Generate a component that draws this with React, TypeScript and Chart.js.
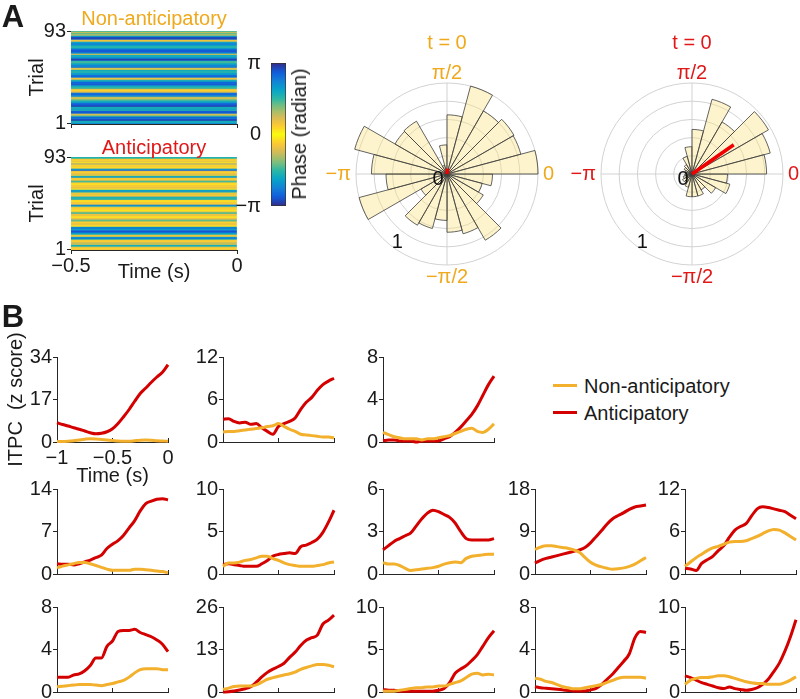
import React, { useEffect, useRef } from 'react';
import { Chart, registerables } from 'chart.js';

Chart.register(...registerables);

const FONT = '"Liberation Sans", Arial, Helvetica, sans-serif';
Chart.defaults.font.family = FONT;
Chart.defaults.font.size = 20;
Chart.defaults.color = '#1a1a1a';

// ---------------- DATA ----------------
// Panel A heatmaps: phase per trial, listed from trial 93 (top row) down to trial 1, in units of pi
const PHASE_NON_ANTICIPATORY = [
  0.5, -0.2, 0.45, 0.35, -0.3, 0.6, -0.9, 0.95, -0.85, 0.15,
  -0.2, 0.6, -0.7, 0.75, -0.65, 0.55, -0.5, 0.6, -0.8, 0.85,
  -0.9, 0.8, -0.7, 0.15, -0.6, 0.55, -0.65, 0.7, 0.95, -0.9,
  0.5, -0.45, 0.55, -0.6, 0.75, -0.7, 0.8, 0.25, -0.1, 0.6,
  -0.55, 0.5, -0.65, 0.6, -0.8, 0.85, -0.75, 0.15, -0.2, 0.55,
  -0.6, 0.85, -0.8, 0.9, -0.75, 0.6, -0.5, 0.55, 0.2, -0.1,
  0.15, -0.25, 0.8, -0.85, 0.75, -0.7, 0.3, -0.2, 0.35, -0.45,
  0.55, -0.6, 0.8, -0.85, 0.9, -0.95, 0.6, -0.55, 0.65, -0.5,
  0.85, -0.9, 0.8, 0.2, -0.3, 0.5, -0.85, 0.75, -0.9, 0.95,
  -0.6, 0.55, -0.7,
];
const PHASE_ANTICIPATORY = [
  0.55, -0.5, 0.15, 0.1, -0.2, 0.05, 0.25, -0.3, 0.1, 0.15,
  -0.05, 0.2, 0.6, -0.85, 0.2, 0.1, -0.15, 0.25, 0.1, -0.55,
  0.65, 0.15, -0.1, 0.2, 0.5, -0.35, 0.1, 0.05, -0.15, 0.1,
  0.2, -0.15, 0.05, 0.6, -0.7, 0.45, 0.15, -0.2, 0.1, 0.25,
  -0.55, 0.5, -0.6, 0.1, 0.05, -0.15, 0.1, 0.2, -0.75, 0.55,
  0.2, -0.1, 0.15, 0.05, -0.1, 0.35, -0.5, 0.15, 0.2, -0.1,
  0.05, 0.15, -0.25, 0.45, -0.35, 0.1, 0.15, -0.2, 0.1, 0.05,
  -0.7, 0.8, -0.6, 0.75, -0.9, 0.85, -0.65, 0.55, 0.2, -0.1,
  0.65, -0.8, 0.55, 0.15, -0.1, 0.2, 0.3, -0.15, 0.6, -0.5,
  0.2, 0.1, -0.15,
];
const TRIALS_TOP_DOWN = Array.from({ length: 93 }, (_, i) => String(93 - i));
const HEAT_WINDOW = [-0.5, 0];
const HEAT_TIME_TICKS = [-0.5, 0];
const HEAT_TIME_LABELS = ['\u22120.5', '0'];
const CB_TICKS = [-Math.PI, 0, Math.PI];
const CB_LABELS = ['\u2212\u03c0', '0', '\u03c0'];

// Rose histograms: 24 bins of 15 deg, counter-clockwise from 0 rad
const ROSE_BIN_LABELS = ['0', '15', '30', '45', '60', '75', '90', '105', '120', '135', '150', '165',
  '180', '195', '210', '225', '240', '255', '270', '285', '300', '315', '330', '345'];
const ROSE_NON_ANTICIPATORY = [1.0, 0.84, 0.85, 0.8, 1.0, 0.65, 0.32, 0.1, 0.67, 0.66, 1.05, 0.83,
  0.67, 1.0, 0.33, 0.65, 0.62, 0.51, 0.64, 0.68, 0.84, 0.46, 0.4, 0.5];
const ROSE_ANTICIPATORY = [0.82, 0.89, 0.97, 0.66, 0.85, 0.49, 0.3, 0.2, 0.12, 0.1, 0.08, 0.06,
  0.08, 0.1, 0.12, 0.1, 0.15, 0.25, 0.25, 0.25, 0.2, 0.3, 0.43, 0.39];
const MEAN_ANGLE_DEG = [85, 35];
const MEAN_LENGTH = [0.06, 0.56];

// Panel B: ITPC traces
const TIME = [-1, -0.95, -0.9, -0.85, -0.8, -0.75, -0.7, -0.65, -0.6, -0.55, -0.5,
  -0.45, -0.4, -0.35, -0.3, -0.25, -0.2, -0.15, -0.1, -0.05, 0];
const ITPC_TIME_TICKS = [-1, -0.5, 0];
const ITPC_TIME_LABELS = ['\u22121', '\u22120.5', '0'];
const Y_MAX = [34, 12, 8, 14, 10, 6, 18, 12, 8, 26, 10, 8, 10];

const NONANT_01 = [0.2, 0.2, 0.3, 0.5, 0.8, 1.1, 1.3, 1.2, 1.0, 0.8, 0.6, 0.4, 0.3, 0.3, 0.5, 0.7, 0.8, 0.7, 0.5, 0.4, 0.3];
const ANTIC_01 = [7.7, 7.0, 6.4, 5.7, 5.1, 4.4, 3.7, 3.3, 3.5, 4.1, 5.3, 7.4, 10.1, 13.0, 16.3, 19.4, 21.6, 23.9, 26.0, 27.9, 30.9];
const NONANT_02 = [1.4, 1.5, 1.5, 1.6, 1.7, 1.8, 1.9, 2.0, 2.2, 2.3, 2.6, 2.2, 1.8, 1.5, 1.1, 1.0, 0.9, 0.8, 0.7, 0.7, 0.6];
const ANTIC_02 = [3.2, 3.3, 2.9, 2.7, 2.8, 2.5, 2.6, 2.0, 1.5, 1.1, 2.2, 2.6, 2.9, 3.4, 4.6, 5.6, 6.3, 7.3, 8.1, 8.6, 9.0];
const NONANT_03 = [0.9, 0.7, 0.5, 0.4, 0.3, 0.3, 0.3, 0.2, 0.3, 0.3, 0.4, 0.5, 0.6, 0.8, 1.0, 1.2, 1.3, 1.0, 0.9, 1.2, 1.7];
const ANTIC_03 = [0.1, 0.2, 0.2, 0.1, 0.1, 0.1, 0.0, 0.1, 0.1, 0.1, 0.1, 0.3, 0.5, 0.9, 1.4, 2.0, 2.6, 3.4, 4.4, 5.4, 6.2];
const NONANT_04 = [1.0, 1.3, 1.5, 1.7, 1.9, 1.9, 1.7, 1.4, 1.1, 0.8, 0.6, 0.6, 0.6, 0.6, 0.8, 0.8, 0.7, 0.6, 0.5, 0.4, 0.2];
const ANTIC_04 = [1.7, 1.6, 1.6, 1.5, 1.7, 2.0, 2.3, 2.7, 3.1, 4.2, 4.9, 5.5, 6.4, 7.6, 8.8, 10.4, 11.6, 12.0, 12.3, 12.4, 12.2];
const NONANT_05 = [0.9, 1.3, 1.3, 1.4, 1.6, 1.7, 1.9, 2.1, 2.1, 1.8, 1.6, 1.3, 1.1, 1.0, 0.9, 0.9, 0.9, 1.0, 1.1, 1.3, 1.4];
const ANTIC_05 = [1.1, 1.2, 1.1, 1.0, 0.9, 0.9, 0.9, 1.2, 1.6, 2.1, 2.3, 2.4, 2.5, 2.4, 3.2, 3.4, 3.7, 4.1, 4.9, 6.1, 7.5];
const NONANT_06 = [0.8, 0.7, 0.7, 0.6, 0.4, 0.25, 0.3, 0.35, 0.4, 0.45, 0.55, 0.7, 0.8, 0.85, 0.8, 1.1, 1.25, 1.3, 1.35, 1.4, 1.4];
const ANTIC_06 = [1.7, 2.0, 2.3, 2.5, 2.7, 2.9, 3.4, 3.9, 4.3, 4.5, 4.4, 4.2, 4.0, 3.6, 3.0, 2.5, 2.4, 2.4, 2.4, 2.4, 2.5];
const NONANT_07 = [5.2, 5.7, 6.0, 6.0, 5.8, 5.6, 5.4, 5.1, 4.6, 3.5, 2.5, 1.9, 1.5, 1.2, 1.0, 1.1, 1.3, 1.6, 2.1, 2.8, 3.5];
const ANTIC_07 = [2.3, 2.9, 3.3, 3.6, 3.9, 4.2, 4.5, 4.8, 5.1, 5.6, 6.6, 7.9, 9.2, 10.6, 11.7, 12.4, 13.0, 13.7, 14.2, 14.4, 14.6];
const NONANT_08 = [1.1, 1.7, 2.3, 2.8, 3.3, 3.7, 3.9, 4.2, 4.5, 4.6, 4.6, 4.7, 5.0, 5.3, 5.7, 6.1, 6.3, 6.2, 5.8, 5.3, 4.8];
const ANTIC_08 = [0.8, 0.7, 0.5, 1.5, 2.0, 2.5, 3.3, 4.0, 5.2, 6.2, 6.7, 7.1, 8.2, 9.2, 9.5, 9.4, 9.2, 9.0, 8.8, 8.3, 7.8];
const NONANT_09 = [0.5, 0.55, 0.6, 0.65, 0.7, 0.7, 0.7, 0.65, 0.6, 0.7, 0.8, 0.95, 1.1, 1.4, 1.8, 2.1, 2.2, 2.2, 2.2, 2.1, 2.1];
const ANTIC_09 = [1.4, 1.4, 1.4, 1.6, 1.7, 2.0, 2.5, 3.2, 3.2, 4.3, 4.8, 5.7, 5.8, 5.8, 5.9, 5.6, 5.4, 5.2, 4.9, 4.5, 3.8];
const NONANT_10 = [0.8, 1.2, 1.7, 1.8, 1.8, 1.8, 2.2, 3.0, 3.9, 4.4, 4.8, 5.2, 5.6, 6.1, 6.9, 7.5, 8.0, 8.4, 8.4, 8.2, 7.7];
const ANTIC_10 = [0.0, 0.1, 0.3, 0.6, 1.0, 1.6, 3.0, 4.6, 6.0, 7.0, 7.8, 8.8, 10.6, 12.2, 14.2, 15.8, 16.6, 17.4, 20.8, 22.0, 23.5];
const NONANT_11 = [0.1, 0.1, 0.1, 0.2, 0.3, 0.4, 0.5, 0.5, 0.6, 0.6, 0.7, 0.7, 0.9, 1.1, 1.3, 1.7, 2.1, 2.2, 2.0, 2.1, 2.0];
const ANTIC_11 = [0.3, 0.2, 0.2, 0.1, 0.1, 0.1, 0.1, 0.1, 0.1, 0.1, 0.2, 0.4, 1.1, 2.2, 2.7, 3.1, 3.7, 4.4, 5.4, 6.4, 7.2];
const NONANT_12 = [1.3, 1.2, 1.0, 0.9, 0.7, 0.5, 0.4, 0.3, 0.3, 0.4, 0.5, 0.6, 0.7, 0.9, 1.1, 1.3, 1.4, 1.4, 1.4, 1.4, 1.3];
const ANTIC_12 = [0.5, 0.4, 0.35, 0.3, 0.25, 0.2, 0.15, 0.1, 0.1, 0.1, 0.2, 0.35, 0.7, 1.2, 1.7, 2.3, 2.9, 3.6, 5.1, 5.7, 5.6];
const NONANT_13 = [0.9, 1.4, 1.6, 1.7, 1.7, 1.8, 1.9, 1.9, 1.8, 1.6, 1.4, 1.2, 1.1, 1.0, 1.0, 0.9, 0.9, 0.9, 1.1, 1.4, 1.8];
const ANTIC_13 = [1.9, 1.7, 1.4, 1.1, 0.9, 0.7, 0.5, 0.4, 0.6, 0.4, 0.3, 0.2, 0.3, 0.5, 0.9, 1.5, 2.4, 3.4, 4.8, 6.5, 8.5];

const NONANT = [NONANT_01, NONANT_02, NONANT_03, NONANT_04, NONANT_05, NONANT_06, NONANT_07,
  NONANT_08, NONANT_09, NONANT_10, NONANT_11, NONANT_12, NONANT_13];
const ANTIC = [ANTIC_01, ANTIC_02, ANTIC_03, ANTIC_04, ANTIC_05, ANTIC_06, ANTIC_07,
  ANTIC_08, ANTIC_09, ANTIC_10, ANTIC_11, ANTIC_12, ANTIC_13];

// ---------------- STYLE / LAYOUT ----------------
const AXIS = '#262626';
const LINE_ORANGE = '#F2B02C';
const LINE_RED = '#D40000';
const TEXT_ORANGE = '#EFA91D';
const TEXT_RED = '#E01818';
const VEC_RED = '#F00000';
const WEDGE_FILL = 'rgba(250,228,133,0.4)';
const WEDGE_EDGE = '#3c3c3c';
const GRID_GRAY = '#d2d2d2';
const PARULA = ['#352A87', '#0F5CDD', '#1481D6', '#06A4CA', '#2EB7A4', '#87BF77', '#D1BB59', '#FEC832', '#F9FB0E'];

const COL_X = [57, 223, 383, 535, 685];
const ROW_Y = [357, 489, 607];
const CELLS = [[0, 0], [0, 1], [0, 2], [1, 0], [1, 1], [1, 2], [1, 3], [1, 4], [2, 0], [2, 1], [2, 2], [2, 3], [2, 4]];
const PLOT_W = 111;
const PLOT_H = 85;

function hexToRgb(h: string) {
  const n = parseInt(h.slice(1), 16);
  return [(n >> 16) & 255, (n >> 8) & 255, n & 255];
}
const PARULA_RGB = PARULA.map(hexToRgb);
function parula(t: number) {
  const x = Math.max(0, Math.min(1, t)) * (PARULA_RGB.length - 1);
  const i = Math.min(PARULA_RGB.length - 2, Math.floor(x));
  const f = x - i;
  const a = PARULA_RGB[i], b = PARULA_RGB[i + 1];
  const c = a.map((v, k) => Math.round(v + (b[k] - v) * f));
  return `rgb(${c[0]},${c[1]},${c[2]})`;
}
function phaseColor(phi: number) {
  return parula(1 - Math.abs(phi) / Math.PI);
}

const BASE_OPTS = {
  responsive: false,
  animation: false as const,
  events: [] as any[],
};
const NO_PLUGINS = { legend: { display: false }, tooltip: { enabled: false } };

// ---------------- CONFIGS ----------------
function heatConfig(phases: number[], padTop: number, xH: number, showX: boolean) {
  const last = TRIALS_TOP_DOWN.length - 1;
  return {
    type: 'bar',
    data: {
      labels: TRIALS_TOP_DOWN,
      datasets: [{
        data: phases.map(() => [HEAT_WINDOW[0], HEAT_WINDOW[1]]),
        backgroundColor: phases.map((v) => phaseColor(v * Math.PI)),
        borderWidth: 0,
        barPercentage: 1,
        categoryPercentage: 1,
      }],
    },
    options: {
      ...BASE_OPTS,
      indexAxis: 'y',
      layout: { padding: { left: 0, right: 13, top: padTop, bottom: 0 } },
      plugins: NO_PLUGINS,
      scales: {
        x: {
          type: 'linear', min: HEAT_WINDOW[0], max: HEAT_WINDOW[1], z: 1,
          afterBuildTicks: (s: any) => { s.ticks = HEAT_TIME_TICKS.map((v) => ({ value: v })); },
          afterFit: (s: any) => { s.height = xH; },
          grid: { display: true, drawOnChartArea: false, drawTicks: true, tickLength: 4, color: AXIS },
          border: { display: true, color: AXIS, width: 1 },
          ticks: { display: showX, padding: 0, maxRotation: 0, autoSkip: false, callback: (_v: any, i: number) => HEAT_TIME_LABELS[i] },
          title: { display: showX, text: 'Time (s)', padding: { top: 0, bottom: 6 } },
        },
        y: {
          type: 'category', z: 1,
          afterFit: (s: any) => { s.width = 71; },
          grid: {
            display: true, drawOnChartArea: false, drawTicks: true, tickLength: 4, offset: false,
            color: (c: any) => (c.index === 0 || c.index === last ? AXIS : 'rgba(0,0,0,0)'),
          },
          border: { display: true, color: AXIS, width: 1 },
          ticks: {
            autoSkip: false, padding: 1,
            callback: (_v: any, i: number) => (i === 0 || i === last ? TRIALS_TOP_DOWN[i] : ''),
          },
          title: { display: true, text: 'Trial', padding: { top: 25, bottom: 0 } },
        },
      },
    },
  };
}

function colorbarConfig() {
  return {
    type: 'bar',
    data: {
      labels: ['phase'],
      datasets: [{
        data: [[-Math.PI, Math.PI]],
        backgroundColor: (c: any) => {
          const chart = c.chart;
          const y = chart.scales && chart.scales.y;
          if (!y) return PARULA[4];
          const top = y.getPixelForValue(Math.PI);
          const bot = y.getPixelForValue(-Math.PI);
          if (!Number.isFinite(top) || !Number.isFinite(bot) || top === bot) return PARULA[4];
          const g = chart.ctx.createLinearGradient(0, top, 0, bot);
          for (let k = 0; k <= 40; k++) {
            const f = k / 40;
            g.addColorStop(f, phaseColor(Math.PI * (1 - 2 * f)));
          }
          return g;
        },
        borderColor: '#333',
        borderWidth: 1,
        borderSkipped: false,
        barPercentage: 1,
        categoryPercentage: 1,
      }],
    },
    options: {
      ...BASE_OPTS,
      layout: { padding: { left: 0, right: 16, top: 15, bottom: 15 } },
      plugins: NO_PLUGINS,
      scales: {
        x: { display: false },
        y: {
          min: -Math.PI, max: Math.PI,
          afterBuildTicks: (s: any) => { s.ticks = CB_TICKS.map((v) => ({ value: v })); },
          afterFit: (s: any) => { s.width = 39; },
          grid: { display: false },
          border: { display: false },
          ticks: { padding: 2, callback: (_v: any, i: number) => CB_LABELS[i] },
        },
      },
    },
  };
}

const roseDecor = {
  id: 'roseDecor',
  afterDatasetsDraw(chart: any, _a: any, o: any) {
    const s = chart.scales.r;
    const ctx = chart.ctx;
    const d = s.getDistanceFromCenterForValue(o.len);
    const a = (o.angle * Math.PI) / 180;
    ctx.save();
    ctx.strokeStyle = VEC_RED;
    ctx.lineWidth = 3.5;
    ctx.beginPath();
    ctx.moveTo(s.xCenter, s.yCenter);
    ctx.lineTo(s.xCenter + d * Math.cos(a), s.yCenter - d * Math.sin(a));
    ctx.stroke();
    ctx.restore();
  },
  afterDraw(chart: any, _a: any, o: any) {
    const s = chart.scales.r;
    const ctx = chart.ctx;
    const R = s.drawingArea;
    const cx = s.xCenter, cy = s.yCenter;
    ctx.save();
    ctx.font = `20px ${FONT}`;
    ctx.textBaseline = 'middle';
    const put = (t: string, x: number, y: number, align: string, color: string) => {
      ctx.fillStyle = color;
      ctx.textAlign = align;
      ctx.fillText(t, x, y);
    };
    put(o.title, cx, cy - R - 40, 'center', o.color);
    put('\u03c0/2', cx, cy - R - 10, 'center', o.color);
    put('\u2212\u03c0/2', cx, cy + R + 12, 'center', o.color);
    put('0', cx + R + 5, cy, 'left', o.color);
    put('\u2212\u03c0', cx - R - 5, cy, 'right', o.color);
    put('0', cx - 9, cy + 5, 'center', '#111');
    const d1 = s.getDistanceFromCenterForValue(0.93);
    const a1 = (-126 * Math.PI) / 180;
    put('1', cx + d1 * Math.cos(a1), cy - d1 * Math.sin(a1), 'center', '#111');
    ctx.restore();
  },
};

function roseConfig(bins: number[], color: string, which: number, padRight: number) {
  return {
    type: 'polarArea',
    data: {
      labels: ROSE_BIN_LABELS,
      datasets: [{
        data: [...bins].reverse(),
        backgroundColor: WEDGE_FILL,
        borderColor: WEDGE_EDGE,
        borderWidth: 0.8,
        clip: false,
      }],
    },
    options: {
      ...BASE_OPTS,
      layout: { padding: { left: 39, right: padRight, top: 63, bottom: 35 } },
      plugins: {
        ...NO_PLUGINS,
        roseDecor: { title: 't = 0', color, angle: MEAN_ANGLE_DEG[which], len: MEAN_LENGTH[which] },
      },
      scales: {
        r: {
          min: 0, max: 1, startAngle: 90,
          ticks: { display: false, stepSize: 0.2 },
          grid: { circular: true, color: GRID_GRAY, lineWidth: 1 },
          angleLines: {
            display: true, lineWidth: 1,
            color: (c: any) => (c.index % 6 === 0 ? GRID_GRAY : 'rgba(0,0,0,0)'),
          },
          pointLabels: { display: false },
        },
      },
    },
    plugins: [roseDecor],
  };
}

function lineConfig(idx: number, yW: number, xH: number, padRight: number, padTop: number) {
  const first = idx === 0;
  const max = Y_MAX[idx];
  const mk = (arr: number[]) => TIME.map((t, k) => ({ x: t, y: arr[k] }));
  const ds = (label: string, arr: number[], color: string) => ({
    label, data: mk(arr), borderColor: color, backgroundColor: color, borderWidth: 3,
    pointRadius: 0, cubicInterpolationMode: 'monotone', clip: false, fill: false,
  });
  return {
    type: 'line',
    data: {
      datasets: [
        ds('Non-anticipatory', NONANT[idx], LINE_ORANGE),
        ds('Anticipatory', ANTIC[idx], LINE_RED),
      ],
    },
    options: {
      ...BASE_OPTS,
      layout: { padding: { left: 0, right: padRight, top: padTop, bottom: 0 } },
      plugins: NO_PLUGINS,
      scales: {
        x: {
          type: 'linear', min: -1, max: 0,
          afterBuildTicks: (s: any) => { s.ticks = ITPC_TIME_TICKS.map((v) => ({ value: v })); },
          afterFit: (s: any) => { s.height = xH; },
          grid: { display: true, drawOnChartArea: false, drawTicks: true, tickLength: -4, color: AXIS },
          border: { display: true, color: AXIS, width: 1 },
          ticks: { display: first, padding: 8, maxRotation: 0, autoSkip: false, callback: (_v: any, i: number) => ITPC_TIME_LABELS[i] },
          title: { display: first, text: 'Time (s)', padding: { top: 0, bottom: 0 } },
        },
        y: {
          type: 'linear', min: 0, max,
          afterBuildTicks: (s: any) => { s.ticks = [0, max / 2, max].map((v) => ({ value: v })); },
          afterFit: (s: any) => { s.width = yW; },
          grid: { display: true, drawOnChartArea: false, drawTicks: true, tickLength: 4, color: AXIS },
          border: { display: true, color: AXIS, width: 1 },
          ticks: { padding: 1, autoSkip: false, callback: (v: any) => String(v) },
          title: { display: first, text: 'ITPC  (z score)', padding: { top: 4, bottom: 0 } },
        },
      },
    },
  };
}

// ---------------- COMPONENTS ----------------
function ChartBox({ make, left, top, width, height }: any) {
  const ref = useRef<HTMLCanvasElement | null>(null);
  useEffect(() => {
    if (!ref.current) return;
    let chart: any = null;
    try {
      chart = new Chart(ref.current, make());
    } catch (e) {
      console.error(e);
    }
    return () => { if (chart) chart.destroy(); };
  }, []);
  return (
    <canvas
      ref={ref}
      width={width}
      height={height}
      style={{ position: 'absolute', left, top, width, height }}
    />
  );
}

function Txt({ x, y, children, color = '#1a1a1a', size = 20, weight = 400, rotate = 0, align = 'center' }: any) {
  const tx = align === 'left' ? '0' : '-50%';
  return (
    <div
      style={{
        position: 'absolute', left: x, top: y, whiteSpace: 'nowrap',
        transform: `translate(${tx}, -50%) rotate(${rotate}deg)`,
        fontFamily: FONT, fontSize: size, fontWeight: weight, color, lineHeight: 1,
      }}
    >
      {children}
    </div>
  );
}

export default function App() {
  const lineBoxes = CELLS.map(([r, c], idx) => {
    const first = idx === 0;
    const yW = first ? COL_X[0] : 45;
    const xH = first ? 46 : 14;
    const padRight = first ? 14 : 6;
    const padTop = first ? 34 : 14;
    const left = COL_X[c] - yW;
    const top = ROW_Y[r] - padTop;
    const width = yW + PLOT_W + padRight;
    const height = padTop + PLOT_H + xH;
    return (
      <ChartBox key={`l${idx}`} left={left} top={top} width={width} height={height}
        make={() => lineConfig(idx, yW, xH, padRight, padTop)} />
    );
  });

  return (
    <div style={{ position: 'absolute', left: 0, top: 0, width: 800, height: 699, overflow: 'hidden', background: '#fff' }}>
      <ChartBox left={0} top={0} width={250} height={138} make={() => heatConfig(PHASE_NON_ANTICIPATORY, 31, 14, false)} />
      <ChartBox left={0} top={140} width={250} height={150} make={() => heatConfig(PHASE_ANTICIPATORY, 17, 40, true)} />
      <ChartBox left={232} top={48} width={70} height={173} make={() => colorbarConfig()} />
      <ChartBox left={317} top={20} width={260} height={280} make={() => roseConfig(ROSE_NON_ANTICIPATORY, TEXT_ORANGE, 0, 39)} />
      <ChartBox left={562} top={20} width={238} height={280} make={() => roseConfig(ROSE_ANTICIPATORY, TEXT_RED, 1, 17)} />
      {lineBoxes}

      <Txt x={13} y={16} size={31} weight={700}>A</Txt>
      <Txt x={13} y={316} size={31} weight={700}>B</Txt>
      <Txt x={154} y={18} color={TEXT_ORANGE}>Non-anticipatory</Txt>
      <Txt x={154} y={147} color={TEXT_RED}>Anticipatory</Txt>
      <Txt x={299} y={134} rotate={-90}>Phase (radian)</Txt>

      <div style={{ position: 'absolute', left: 553, top: 384, width: 24, height: 3, background: LINE_ORANGE }} />
      <div style={{ position: 'absolute', left: 553, top: 411, width: 24, height: 3, background: LINE_RED }} />
      <Txt x={584} y={386} align="left">Non-anticipatory</Txt>
      <Txt x={584} y={413} align="left">Anticipatory</Txt>
    </div>
  );
}
